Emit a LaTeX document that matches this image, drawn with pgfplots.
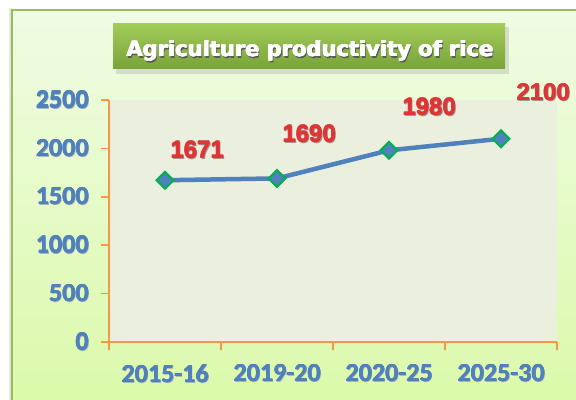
\documentclass[border=0pt]{standalone}
\usepackage{pgfplots}
\pgfplotsset{compat=1.18}
\usepackage{fontspec}
\setmainfont{Liberation Sans}
\newfontfamily\calfont{Carlito}
\newfontfamily\dvsfont{DejaVu Sans}
\definecolor{bgA}{RGB}{240,251,228}
\definecolor{bgB}{RGB}{219,250,170}
\definecolor{plotbg}{RGB}{235,239,221}
\definecolor{framec}{RGB}{155,187,89}
\definecolor{tbA}{RGB}{162,204,88}
\definecolor{tbB}{RGB}{120,163,56}
\definecolor{ser}{RGB}{79,129,189}
\definecolor{mk}{RGB}{0,176,80}
\definecolor{axc}{RGB}{247,150,70}
\definecolor{labc}{RGB}{222,54,54}
\newcommand\fancy[3]{\leavevmode\rlap{\kern#2\raisebox{-#2}{\textcolor{#1}{#3}}}\rlap{\kern0.45pt #3}\rlap{\raisebox{0.35pt}{#3}}\rlap{\kern0.45pt\raisebox{0.35pt}{#3}}#3}
\newcommand\heavy[1]{\leavevmode\rlap{\kern1.6pt\raisebox{-1.6pt}{\textcolor{black!65}{#1}}}\rlap{\kern0.8pt #1}\rlap{\raisebox{0.6pt}{#1}}\rlap{\kern0.8pt\raisebox{0.6pt}{#1}}\rlap{\kern0.4pt\raisebox{0.3pt}{#1}}#1}
\newcommand\tl[1]{\fancy{black!30}{1pt}{#1}}
\pgfplotstableread{
x y dx dy
0.5 1671 32 30
1.5 1690 32 44
2.5 1980 40 43
3.5 2100 42 46
}\ricedata
\begin{document}
\begin{tikzpicture}
\useasboundingbox (0,0) rectangle (576bp,400bp);
\fill[white] (0,0) rectangle (576bp,400bp);
\fill[black!10] (9bp,0) rectangle (12bp,392bp);
\shade[top color=bgA,bottom color=bgB] (12bp,0) rectangle (576bp,390bp);
\draw[framec,line width=2bp] (12bp,0) -- (12bp,390bp) -- (576bp,390bp);
\fill[black!35,opacity=0.35] (116bp,326bp) rectangle (509bp,373bp);
\shade[top color=tbA,bottom color=tbB] (113bp,331bp) rectangle (505bp,376bp);
\node[anchor=base,text=white,inner sep=0pt,font=\dvsfont\bfseries\fontsize{21bp}{24bp}\selectfont] at (309.5bp,343bp) {\heavy{Agriculture productivity of rice}};
\begin{axis}[
  at={(109bp,58bp)}, anchor=south west,
  scale only axis, width=448bp, height=242bp,
  xmin=0, xmax=4, ymin=0, ymax=2500,
  clip=false,
  axis x line=bottom, axis y line=left,
  axis line style={axc, line width=1.5bp, -},
  axis background/.style={fill=plotbg},
  tick align=outside,
  major tick length=8bp,
  tick style={axc, line width=1.5bp},
  xtick={0,1,2,3,4}, xticklabels={,,,,},
  extra x ticks={0.5,1.5,2.5,3.5},
  extra x tick labels={\tl{2015-16},\tl{2019-20},\tl{2020-25},\tl{2025-30}},
  extra x tick style={major tick length=0pt, tick style={draw=none}, xticklabel style={yshift=-19bp}},
  ytick={0,500,1000,1500,2000,2500},
  yticklabels={\tl{0},\tl{500},\tl{1000},\tl{1500},\tl{2000},\tl{2500}},
  yticklabel style={xshift=-9bp},
  ticklabel style={text=ser, font=\calfont\bfseries\fontsize{26bp}{28bp}\selectfont},
  /pgf/number format/1000 sep={},
  /pgf/number format/assume math mode=true,
]
\addplot[ser, line width=4.5bp, mark=square*,
  mark options={rotate=45, fill=ser, draw=mk, line width=2bp, mark size=6bp},
  point meta=explicit,
  visualization depends on={\thisrow{dx}\as\dx},
  visualization depends on={\thisrow{dy}\as\dy},
  nodes near coords={\fancy{black!40}{1.3pt}{\pgfmathprintnumber{\pgfplotspointmeta}}},
  every node near coord/.append style={text=labc, anchor=center, xshift=\dx bp, yshift=\dy bp, font=\bfseries\fontsize{24bp}{26bp}\selectfont},
] table[x=x, y=y, meta=y] {\ricedata};
\end{axis}
\end{tikzpicture}
\end{document}
